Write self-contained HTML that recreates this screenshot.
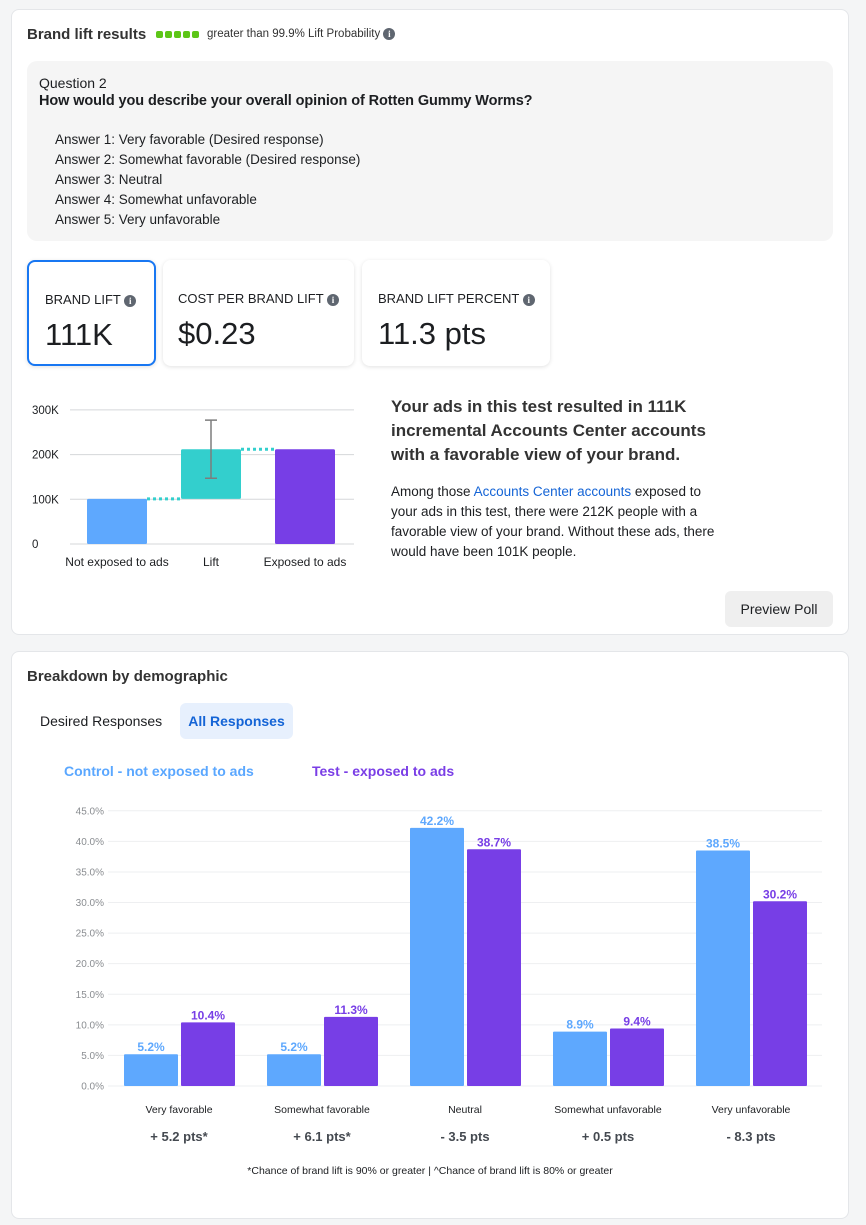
<!DOCTYPE html>
<html><head><meta charset="utf-8">
<style>
*{box-sizing:border-box;margin:0;padding:0}
body{width:866px;height:1225px;background:#f4f5f6;font-family:"Liberation Sans",sans-serif;color:#1c1e21;position:relative;overflow:hidden}
.abs{position:absolute}
.card{position:absolute;left:11px;width:838px;background:#fff;border:1px solid #e4e6e9;border-radius:8px}
.info{display:inline-block;width:12px;height:12px;border-radius:50%;background:#5f6670;color:#fff;font-size:9px;font-weight:bold;text-align:center;line-height:12px;vertical-align:middle;font-family:"Liberation Serif",serif}
.tile{position:absolute;top:260px;height:106px;background:#fff;border-radius:8px;box-shadow:0 1px 4px rgba(0,0,0,.12);padding:31px 0 0 17px}
.tile .lbl{font-size:13px;color:#1c1e21}
.tile .val{font-size:31px;margin-top:10px}
.ans{font-size:13.5px;line-height:20px}
</style></head><body>
<div class="card" style="top:9px;height:626px"></div>
<div class="abs" style="left:27px;top:26px;font-size:15px;font-weight:bold;color:#333">Brand lift results</div>
<div class="abs" style="left:156px;top:31px;display:flex;gap:2px"><span style="width:7px;height:7px;background:#5dc617;border-radius:2px"></span><span style="width:7px;height:7px;background:#5dc617;border-radius:2px"></span><span style="width:7px;height:7px;background:#5dc617;border-radius:2px"></span><span style="width:7px;height:7px;background:#5dc617;border-radius:2px"></span><span style="width:7px;height:7px;background:#5dc617;border-radius:2px"></span></div>
<div class="abs" style="left:207px;top:28px;font-size:11.5px;color:#333">greater than 99.9% Lift Probability <span class="info">i</span></div>
<div class="abs" style="left:27px;top:61px;width:806px;height:180px;background:#f5f5f5;border-radius:10px;padding:14px 0 0 12px">
<div style="font-size:14px">Question 2</div>
<div style="font-size:14.5px;font-weight:bold;margin-top:2px;letter-spacing:-0.1px">How would you describe your overall opinion of Rotten Gummy Worms?</div>
<div style="margin:21px 0 0 16px">
<div class="ans">Answer 1: Very favorable (Desired response)</div>
<div class="ans">Answer 2: Somewhat favorable (Desired response)</div>
<div class="ans">Answer 3: Neutral</div>
<div class="ans">Answer 4: Somewhat unfavorable</div>
<div class="ans">Answer 5: Very unfavorable</div>
</div></div>
<div class="tile" style="left:27px;width:129px;border:2px solid #1877f2;padding:30px 0 0 16px"><div class="lbl">BRAND LIFT <span class="info">i</span></div><div class="val">111K</div></div>
<div class="tile" style="left:163px;width:191px;padding-left:15px"><div class="lbl">COST PER BRAND LIFT <span class="info">i</span></div><div class="val">$0.23</div></div>
<div class="tile" style="left:362px;width:188px;padding-left:16px"><div class="lbl">BRAND LIFT PERCENT <span class="info">i</span></div><div class="val">11.3 pts</div></div>
<svg class="abs" id="lift" style="left:0;top:380px" width="370" height="200"></svg>
<div class="abs" style="left:391px;top:395px;width:340px;font-size:17px;font-weight:bold;line-height:24px;color:#333">Your ads in this test resulted in 111K incremental Accounts Center accounts with a favorable view of your brand.</div>
<div class="abs" style="left:391px;top:482px;width:336px;font-size:13.5px;line-height:20px;color:#1c1e21">Among those <span style="color:#1464d6">Accounts Center accounts</span> exposed to your ads in this test, there were 212K people with a favorable view of your brand. Without these ads, there would have been 101K people.</div>
<div class="abs" style="left:725px;top:591px;width:108px;height:36px;background:#efefef;border-radius:6px;font-size:14px;text-align:center;line-height:36px">Preview Poll</div>

<div class="card" style="top:651px;height:568px"></div>
<div class="abs" style="left:27px;top:668px;font-size:15px;font-weight:bold;color:#333">Breakdown by demographic</div>
<div class="abs" style="left:27px;top:703px;height:36px;padding:0 13px;font-size:14px;line-height:36px">Desired Responses</div>
<div class="abs" style="left:180px;top:703px;width:113px;height:36px;background:#e7f0fd;border-radius:6px;font-size:14px;font-weight:bold;color:#1464d6;text-align:center;line-height:36px">All Responses</div>
<div class="abs" style="left:64px;top:763px;font-size:14px;font-weight:bold;color:#5aa7ff">Control - not exposed to ads</div>
<div class="abs" style="left:312px;top:763px;font-size:14px;font-weight:bold;color:#7a3ee6">Test - exposed to ads</div>
<svg class="abs" id="demo" style="left:0;top:790px" width="866" height="370"></svg>
<div class="abs" style="left:0;width:860px;top:1165px;font-size:10.5px;text-align:center">*Chance of brand lift is 90% or greater | ^Chance of brand lift is 80% or greater</div>
<script>
const NS='http://www.w3.org/2000/svg';
function mk(p,t,a,txt){const e=document.createElementNS(NS,t);for(const k in a)e.setAttribute(k,a[k]);if(txt!==undefined)e.textContent=txt;p.appendChild(e);return e;}
// lift chart data
const liftTicks=[0,100,200,300];
const liftTickLabels=['0','100K','200K','300K'];
const liftCats=['Not exposed to ads','Lift','Exposed to ads'];
const baseline=101;
const exposed=212;
const errLow=147;
const errHigh=277;
(function(){
 const s=document.getElementById('lift');
 const y=v=>164-v*44.7/100;
 const x=i=>87+i*94;
 liftTicks.forEach((t,i)=>{
  const g=mk(s,'line',{x1:70,x2:354,y1:y(t),y2:y(t),stroke:'#d5d7da','stroke-width':1});
  
  const l=mk(s,'text',{x:32,y:y(t)+4,'font-size':11.5,fill:'#1c1e21'},liftTickLabels[i]);
  
 });
 const bars=[[0,baseline,'#5ea8fe'],[baseline,exposed,'#33cfcd'],[0,exposed,'#773ee6']];
 bars.forEach((b,i)=>{
  const r=mk(s,'rect',{x:x(i),y:y(b[1]),width:60,height:y(b[0])-y(b[1]),fill:b[2],rx:1.5});
  
  const t=mk(s,'text',{x:x(i)+30,y:186,'font-size':12,'text-anchor':'middle',fill:'#1c1e21'},liftCats[i]);
  
 });
 const d1=mk(s,'line',{x1:x(0)+60,x2:x(1),y1:y(baseline),y2:y(baseline),stroke:'#33cfcd','stroke-width':3,'stroke-dasharray':'3,3'});
 
 const d2=mk(s,'line',{x1:x(1)+60,x2:x(2),y1:y(exposed),y2:y(exposed),stroke:'#33cfcd','stroke-width':3,'stroke-dasharray':'3,3'});
 
 const ex=x(1)+30;
 const e=mk(s,'path',{d:`M${ex} ${y(errLow)}V${y(errHigh)}M${ex-6} ${y(errLow)}H${ex+6}M${ex-6} ${y(errHigh)}H${ex+6}`,stroke:'#7d7d7d','stroke-width':1.5,fill:'none'});
 
})();
// demographic chart data
const demoCats=['Very favorable','Somewhat favorable','Neutral','Somewhat unfavorable','Very unfavorable'];
const controlVals=[5.2,5.2,42.2,8.9,38.5];
const testVals=[10.4,11.3,38.7,9.4,30.2];
const liftLabels=['+ 5.2 pts*','+ 6.1 pts*','- 3.5 pts','+ 0.5 pts','- 8.3 pts'];
const demoTicks=[0,5,10,15,20,25,30,35,40,45];
(function(){
 const s=document.getElementById('demo');
 const y=v=>296-v*30.58/5;
 const gx=i=>124+i*143;
 demoTicks.forEach(t=>{
  const g=mk(s,'line',{x1:108,x2:822,y1:y(t),y2:y(t),stroke:'#eeeff1','stroke-width':1});
  
  const l=mk(s,'text',{x:104,y:y(t)+3.5,'font-size':10,fill:'#8a8d91','text-anchor':'end'},t.toFixed(1)+'%');
  
 });
 demoCats.forEach((c,i)=>{
  [[controlVals[i],'#5ea8fe',0],[testVals[i],'#773ee6',57]].forEach(([v,col,off],j)=>{
   const r=mk(s,'rect',{x:gx(i)+off,y:y(v),width:54,height:y(0)-y(v),fill:col,rx:1});
   
   const t=mk(s,'text',{x:gx(i)+off+27,y:y(v)-3,'font-size':12,'font-weight':'bold',fill:col,'text-anchor':'middle'},v.toFixed(1)+'%');
   
  });
  const cl=mk(s,'text',{x:gx(i)+55,y:323,'font-size':10.5,fill:'#1c1e21','text-anchor':'middle'},c);
  
  const ll=mk(s,'text',{x:gx(i)+55,y:351,'font-size':13,'font-weight':'bold',fill:'#444950','text-anchor':'middle'},liftLabels[i]);
  
 });
})();
</script>
</body></html>
